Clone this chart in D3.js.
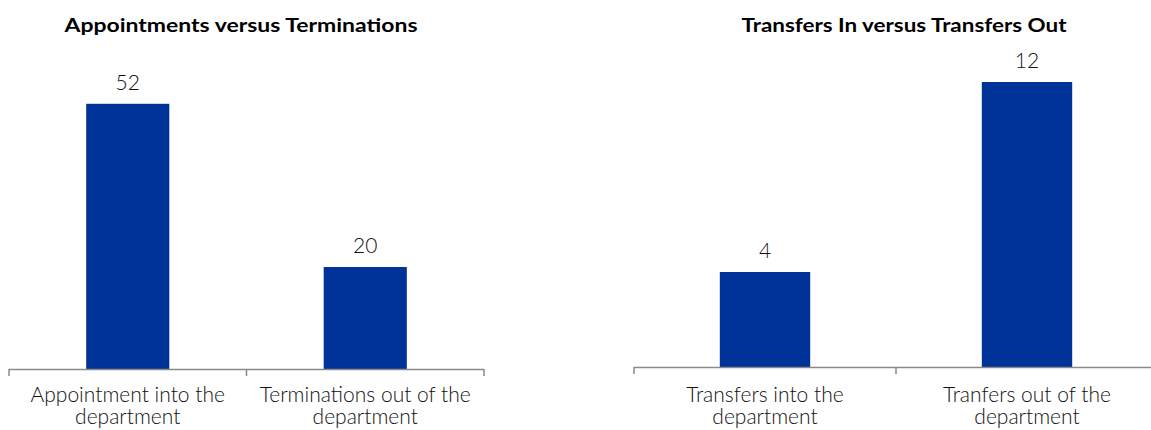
<!DOCTYPE html>
<html><head><meta charset="utf-8">
<script src="https://cdn.jsdelivr.net/npm/d3@7"></script>
<style>body{margin:0;background:#fff}svg{display:block}text{font-family:Lato,"Open Sans",sans-serif;fill:#111}</style>
</head><body><svg id="c" width="1151" height="430"></svg>
<script>
const leftTitle = "Appointments versus  Terminations";
const leftCategories = [["Appointment into the","department"],["Terminations out of the","department"]];
const leftValues = [52, 20];
const rightTitle = "Transfers  In versus Transfers Out";
const rightCategories = [["Transfers into the","department"],["Tranfers out of the","department"]];
const rightValues = [4, 12];

const svg = d3.select("#c");
const barColor = "#003399";

function panel(cfg){
  const g = svg.append("g");
  const x = d3.scaleBand().domain(d3.range(cfg.values.length)).range([cfg.x0, cfg.x1]).paddingInner(0).paddingOuter(0);
  const y = d3.scaleLinear().domain([0, cfg.ymax]).range([cfg.base, cfg.top]);
  const bw = x.step()*cfg.barFrac;
  g.selectAll("rect").data(cfg.values).join("rect")
    .attr("x",(d,i)=>x(i)+x.step()/2-bw/2).attr("width",bw)
    .attr("y",d=>y(d)).attr("height",d=>y(0)-y(d)).attr("fill",barColor);
  g.selectAll("text.v").data(cfg.values).join("text").attr("class","v")
    .attr("x",(d,i)=>x(i)+x.step()/2).attr("y",d=>y(d)-14)
    .attr("text-anchor","middle").style("font-size","21px").style("font-weight","300").text(d=>d);
  g.append("line").attr("x1",cfg.x0).attr("x2",cfg.x1).attr("y1",y(0)+0.5).attr("y2",y(0)+0.5)
    .attr("stroke","#8a8a8a").attr("stroke-width",1.5);
  const ticks = d3.range(cfg.values.length+1).map(i=>cfg.x0+i*x.step());
  g.selectAll("line.t").data(ticks).join("line").attr("class","t")
    .attr("x1",d=>d).attr("x2",d=>d).attr("y1",y(0)).attr("y2",y(0)+7)
    .attr("stroke","#8a8a8a").attr("stroke-width",1.5);
  cfg.cats.forEach((lines,i)=>{
    const cx = x(i)+x.step()/2;
    const t = g.append("text").attr("x",cx).attr("y",cfg.labelY)
      .attr("text-anchor","middle").style("font-size","21px").style("font-weight","300");
    lines.forEach((s,j)=>{
      t.append("tspan").attr("x",cx).attr("dy",j===0?0:cfg.lineH).text(s);
    });
  });
  g.append("text").attr("x",cfg.titleX).attr("y",32).attr("text-anchor","middle")
    .style("font-size","18px").style("font-weight","bold").attr("textLength",cfg.titleW)
    .attr("lengthAdjust","spacingAndGlyphs").style("fill","#000").text(cfg.title);
}
panel({title:leftTitle,titleX:241,titleW:353,values:leftValues,cats:leftCategories,
  x0:9,x1:484,base:369,top:63,ymax:60,barFrac:0.35,labelY:402,lineH:22});
panel({title:rightTitle,titleX:904,titleW:325,values:rightValues,cats:rightCategories,
  x0:634,x1:1158,base:367,top:34.5,ymax:14,barFrac:0.345,labelY:402,lineH:22});
</script></body></html>
